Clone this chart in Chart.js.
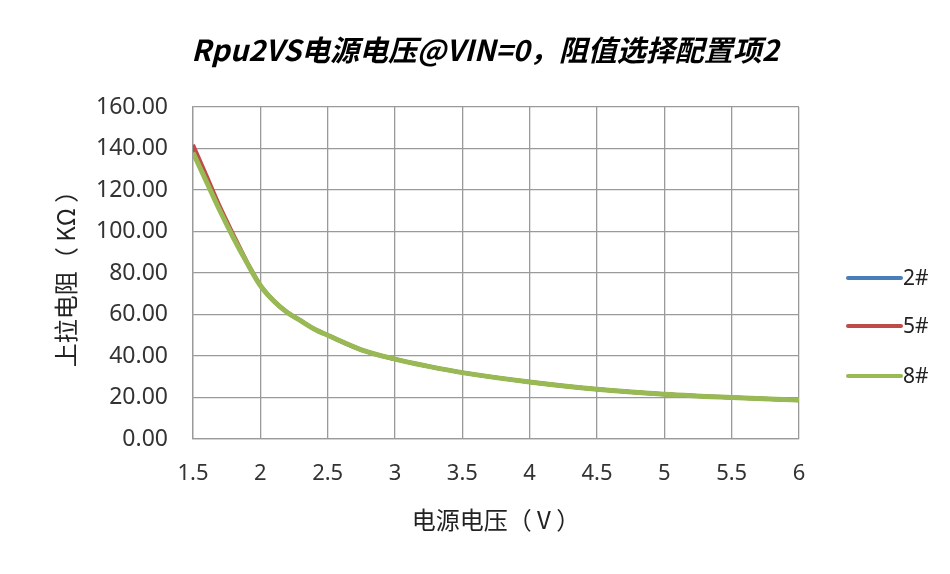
<!DOCTYPE html>
<html>
<head>
<meta charset="utf-8">
<script src="https://cdn.jsdelivr.net/npm/chart.js@4"></script>
<style>
    html, body { margin: 0; padding: 0; background: #fff; }
    #wrap { width: 950px; height: 574px; }
</style>
</head>
<body>
<div id="wrap"><canvas id="rpuChart" width="950" height="574"></canvas></div>
<script>
// Supply voltage (V)
const voltages = [1.5, 1.6, 1.7, 1.8, 1.9, 2.0, 2.1, 2.2, 2.3, 2.4, 2.5, 2.75, 3.0, 3.25, 3.5, 4.0, 4.5, 5.0, 5.5, 6.0];

// Pull-up resistance (KΩ) per sample
const rpu2 = [139.5, 125, 110.5, 97.5, 85, 74, 66.5, 61, 57, 53, 50, 43, 38.5, 35, 32, 27.5, 24, 21.6, 20, 18.8];
const rpu5 = [141.8, 127, 112, 98.5, 85.5, 74, 66.5, 61, 57, 53, 50, 43, 38.5, 35, 32, 27.5, 24, 21.6, 20, 18.7];
const rpu8 = [138, 124, 110, 97, 85, 74, 66.5, 61, 57, 53, 50, 43, 38.5, 35, 32, 27.5, 24, 21.6, 20, 18.8];

const seriesNames = ['2#', '5#', '8#'];
const xTicks = [1.5, 2, 2.5, 3, 3.5, 4, 4.5, 5, 5.5, 6];
const yTicks = [0, 20, 40, 60, 80, 100, 120, 140, 160];

const chartTitle = 'Rpu2VS电源电压@VIN=0，阻值选择配置项2';
const xTitle = '电源电压（ V ）';
const yTitle = '上拉电阻（ KΩ ）';

const colors = ['#4a7ebb', '#be4b48', '#98b954'];

function toPoints(values) {
    return voltages.map((v, i) => ({ x: v, y: values[i] }));
}

// Title and legend are drawn by hand so they sit where the original put them
const titleAndLegend = {
    id: 'titleAndLegend',
    afterDraw(chart) {
        const ctx = chart.ctx;
        ctx.save();
        ctx.fillStyle = '#000';
        ctx.font = 'italic bold 29px "Noto Sans CJK SC", sans-serif';
        ctx.textAlign = 'center';
        ctx.textBaseline = 'middle';
        ctx.fillText(chartTitle, 485, 50);

        // legend
        const rows = [278, 326, 376];
        ctx.font = '21px "Noto Sans", sans-serif';
        ctx.textAlign = 'left';
        chart.data.datasets.forEach((ds, i) => {
            ctx.strokeStyle = ds.borderColor;
            ctx.lineWidth = 4;
            ctx.lineCap = 'round';
            ctx.beginPath();
            ctx.moveTo(848, rows[i]);
            ctx.lineTo(901, rows[i]);
            ctx.stroke();
            ctx.fillStyle = '#222';
            ctx.fillText(ds.label, 903, rows[i] + 1);
        });
        ctx.restore();
    }
};

const ctx = document.getElementById('rpuChart').getContext('2d');
const rpuChart = new Chart(ctx, {
    type: 'line',
    data: {
        datasets: [
            // higher order is painted first, so green ends up on top
            { label: seriesNames[0], data: toPoints(rpu2), borderColor: colors[0], borderWidth: 4, order: 3 },
            { label: seriesNames[1], data: toPoints(rpu5), borderColor: colors[1], borderWidth: 4, order: 2 },
            { label: seriesNames[2], data: toPoints(rpu8), borderColor: colors[2], borderWidth: 5, order: 1 }
        ]
    },
    options: {
        responsive: false,
        animation: false,
        devicePixelRatio: 1,
        layout: {
            padding: { top: 107, left: 47, right: 151, bottom: 36 }
        },
        elements: {
            point: { radius: 0 },
            line: { cubicInterpolationMode: 'monotone', fill: false }
        },
        scales: {
            x: {
                type: 'linear',
                min: 1.5,
                max: 6,
                afterBuildTicks: function(scale) {
                    scale.ticks = xTicks.map(v => ({ value: v }));
                },
                afterFit: function(scale) { scale.height = 99; },
                ticks: {
                    padding: 22,
                    color: '#333',
                    font: { family: '"Noto Sans", sans-serif', size: 22 },
                    callback: v => String(v)
                },
                grid: { color: '#9a9a9a', lineWidth: 1.3, drawTicks: false },
                border: { color: '#9a9a9a', width: 1.3 },
                title: {
                    display: true,
                    text: xTitle,
                    color: '#222',
                    font: { family: '"Noto Sans CJK SC", sans-serif', size: 24 }
                }
            },
            y: {
                min: 0,
                max: 160,
                afterBuildTicks: function(scale) {
                    scale.ticks = yTicks.map(v => ({ value: v }));
                },
                afterFit: function(scale) { scale.width = 146; },
                ticks: {
                    padding: 25,
                    color: '#333',
                    font: { family: '"Noto Sans", sans-serif', size: 23 },
                    callback: v => v.toFixed(2)
                },
                grid: { color: '#9a9a9a', lineWidth: 1.3, drawTicks: false },
                border: { color: '#9a9a9a', width: 1.3 },
                title: {
                    display: true,
                    text: yTitle,
                    color: '#222',
                    font: { family: '"Noto Sans CJK SC", sans-serif', size: 24 }
                }
            }
        },
        plugins: {
            legend: { display: false },
            title: { display: false },
            tooltip: { enabled: false }
        }
    },
    plugins: [titleAndLegend]
});
</script>
</body>
</html>
